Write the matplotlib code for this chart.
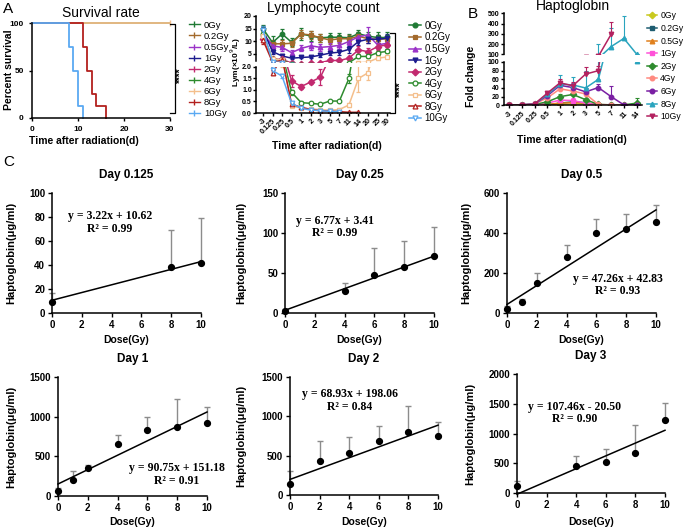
import numpy as np
import matplotlib
matplotlib.use('Agg')
import matplotlib.pyplot as plt
from matplotlib.lines import Line2D

plt.rcParams['font.family'] = ['Liberation Sans', 'DejaVu Sans']
plt.rcParams['axes.linewidth'] = 1.1

W, H = 685, 528


def box(l, t, r, b):
    # pixel box -> figure fraction
    return [l / W, 1 - b / H, (r - l) / W, (b - t) / H]


def fx(x):
    return x / W


def fy(y):
    return 1 - y / H


# ---------------- data ----------------
doses = ['0Gy', '0.2Gy', '0.5Gy', '1Gy', '2Gy', '4Gy', '6Gy', '8Gy', '10Gy']

# survival (Kaplan-Meier steps)
surv_t_low = [0, 30]
surv_p_low = [100, 100]
surv_t_8 = [0, 11, 12, 13, 14, 16]
surv_p_8 = [100, 75, 50, 25, 12.5, 0]
surv_t_10 = [0, 8, 9, 10, 11]
surv_p_10 = [100, 75, 50, 12.5, 0]

# lymphocyte count
lym_days = ['-3', '0.125', '0.25', '0.5', '1', '2', '3', '5', '7', '11', '14', '20', '25', '30']
nan = np.nan
lym_0 = [15, 9.5, 12.9, 9.6, 12.9, 12.1, 11.4, 11.6, 11.6, 11.4, 13, 12, 11.5, 11.5]
lym_02 = [12, 9, 9, 9.2, 12.9, 12.5, 11.4, 10.5, 11, 11, 12, 11, 10.8, 11]
lym_05 = [13, 8.2, 7.6, 5.5, 7.2, 8.2, 7.6, 7.9, 8.4, 9.9, 11.8, 12.5, 8.6, 9.2]
lym_1 = [14.5, 5.9, 4.2, 3.3, 3.6, 3.8, 4.5, 5.3, 5.7, 6.8, 9.9, 10.8, 10.8, 11.2]
lym_2 = [11, 3.0, 2.8, 1.4, 1.15, 1.35, 1.55, 2.4, 2.4, 3.3, 6.6, 5.9, 7.9, 8.6]
lym_4 = [13, 2.9, 2.6, 0.9, 0.45, 0.42, 0.38, 0.52, 0.52, 1.5, 4, 4, 5.5, 6]
lym_6 = [12, 3.1, 2.5, 0.3, 0.22, 0.18, 0.15, 0.12, 0.15, 0.35, 1.5, 1.75, 3.3, 3.8]
lym_8 = [10.5, 1.75, 2.4, 0.38, 0.25, 0.15, 0.1, 0.08, 0.06, 0.03, 0.03, nan, nan, nan]
lym_10 = [14.5, 1.85, 1.6, 0.42, 0.2, 0.13, 0.1, 0.07, 0.06, nan, nan, nan, nan, nan]

lym_sd_0 = [1.5, 2.5, 2, 1.5, 2.5, 2, 1.5, 1.5, 1.5, 1.5, 1.5, 1.5, 2, 2]
lym_sd_02 = [1.5, 1.5, 1.5, 1.5, 1.5, 1.5, 1.5, 1.5, 1.5, 1.5, 1.5, 1.5, 1.5, 1.5]
lym_sd_05 = [1.5, 1.5, 1.5, 1.2, 1.2, 1.5, 1.5, 1.5, 1.5, 1.5, 1.5, 3, 1.5, 1.5]
lym_sd_1 = [1.5, 1, 0.8, 0.4, 0.4, 0.4, 0.8, 0.8, 1, 1.5, 1.5, 1.5, 1.5, 1.5]
lym_sd_2 = [1, 0.6, 0.5, 0.25, 0.1, 0.1, 0.35, 0.3, 0.3, 0.6, 1.5, 1.5, 1.5, 1.5]
lym_sd_4 = [1.5, 0.5, 0.5, 0.1, 0.05, 0.04, 0.04, 0.06, 0.06, 0.2, 0.8, 0.8, 0.8, 0.8]
lym_sd_6 = [1.5, 0.5, 0.5, 0.05, 0.04, 0.04, 0.03, 0.03, 0.05, 0.1, 0.6, 0.3, 0.6, 0.6]
lym_sd_8 = [1.5, 0.1, 0.3, 0.05, 0.04, 0.03, 0.02, 0.02, 0.02, 0.02, 0.02, nan, nan, nan]
lym_sd_10 = [1.5, 0.1, 0.08, 0.05, 0.04, 0.03, 0.02, 0.02, 0.02, nan, nan, nan, nan, nan]

# haptoglobin fold change
hp_days = ['-3', '0.125', '0.25', '0.5', '1', '2', '3', '5', '7', '11', '14']
hp_0 = [1, 1, 1, 1, 2, 3, 3, 1, 1, 1, 1]
hp_02 = [1, 1, 1, 1, 5, 8, 6, 1, 1, 1, 1]
hp_05 = [1, 1, 1, 2, 5, 6, 5, 1, 1, 1, 1]
hp_1 = [1, 1, 1, 5, 12, 11, 5, 1, 1, 1, 1]
hp_2 = [1, 1, 2, 8, 20, 25, 13, 2, 1, 1, 5]
hp_4 = [1, 1, 3, 17, 38, 33, 26, 2, 1, 1, 1]
hp_6 = [1, 1, 3, 22, 46, 41, 31, 41, 20, 1, 1]
hp_8 = [1, 1, 3, 25, 49, 47, 40, 60, 175, 255, 102]
hp_10 = [1, 1, 3, 28, 52, 45, 72, 80, 295, nan, nan]

hp_sd_0 = [0, 0, 0, 0, 1, 1, 1, 0, 0, 0, 0]
hp_sd_02 = [0, 0, 0, 0, 3, 4, 3, 0, 0, 0, 0]
hp_sd_05 = [0, 0, 0, 1, 3, 3, 3, 0, 0, 0, 0]
hp_sd_1 = [0, 0, 0, 2, 5, 5, 3, 0, 0, 5, 0]
hp_sd_2 = [0, 0, 1, 3, 6, 6, 5, 1, 0, 0, 11]
hp_sd_4 = [0, 0, 1, 5, 8, 8, 6, 1, 0, 0, 0]
hp_sd_6 = [0, 0, 1, 6, 10, 10, 8, 8, 25, 0, 0]
hp_sd_8 = [0, 0, 1, 6, 22, 18, 40, 140, 180, 220, 5]
hp_sd_10 = [0, 0, 1, 6, 8, 8, 16, 10, 124, nan, nan]

# panel C: haptoglobin vs dose
c_days = ['Day 0.125', 'Day 0.25', 'Day 0.5', 'Day 1', 'Day 2', 'Day 3']
c_dose = [[0, 8, 10], [0, 4, 6, 8, 10], [0, 1, 2, 4, 6, 8, 10],
          [0, 1, 2, 4, 6, 8, 10], [0, 2, 4, 6, 8, 10], [0, 4, 6, 8, 10]]
c_mean = [[9.5, 38, 42], [3, 28, 48, 57, 71], [20, 55, 150, 278, 400, 418, 456],
          [65, 200, 350, 655, 830, 868, 925], [140, 430, 540, 690, 800, 750],
          [110, 450, 520, 665, 1235]]
c_sd = [[7.5, 31, 37], [2, 10, 33, 33, 36], [15, 15, 48, 60, 72, 75, 82],
        [40, 115, 40, 115, 170, 360, 195], [160, 260, 200, 190, 330, 175],
        [90, 165, 225, 470, 275]]
c_slope = [3.22, 6.77, 47.26, 90.75, 68.93, 107.46]
c_icpt = [10.62, 3.41, 42.83, 151.18, 198.06, -20.50]
c_r2 = [0.99, 0.99, 0.93, 0.91, 0.84, 0.90]
c_ymax = [100, 150, 600, 1500, 1500, 2000]
c_ystep = [20, 50, 200, 500, 500, 500]

# ---------------- styles ----------------
lym_colors = ['#1f7a34', '#a36a2c', '#9b33c8', '#1c1c8e', '#c2296f',
              '#2e8b2e', '#f4bf8c', '#b3201e', '#5aa9f2']
lym_markers = ['o', 's', '^', 'v', 'D', 'o', 's', '^', 'v']
lym_fill = [True, True, True, True, True, False, False, False, False]
hp_colors = ['#c9c91f', '#1d5c70', '#e0801d', '#ff52d8', '#2e8b2e',
             '#ff8a80', '#7a1fa3', '#2aa4be', '#b3215f']
hp_markers = ['D', 's', '^', 's', 'D', 'o', 'o', '^', 'v']

fig = plt.figure(figsize=(6.85, 5.28), dpi=100)

# ================= A: survival =================
ax = fig.add_axes(box(32, 23, 170, 118))
surv_sets = [(surv_t_low, surv_p_low)] * 7 + [(surv_t_8, surv_p_8), (surv_t_10, surv_p_10)]
for (t, p), c in zip(surv_sets, lym_colors):
    ax.step(t, p, where='post', color=c, lw=1.3, clip_on=False)
ax.plot([30], [100], marker='|', color=lym_colors[6], ms=4, clip_on=False)
ax.set_xlim(0, 30)
ax.set_ylim(0, 100)
ax.set_xticks([0, 10, 20, 30])
ax.set_yticks([0, 50, 100])
for s in ['top', 'right']:
    ax.spines[s].set_visible(False)
ax.tick_params(labelsize=6, length=2.5, width=1)
for lab in ax.get_xticklabels() + ax.get_yticklabels():
    lab.set_fontweight('bold')
ax.set_title('Survival rate', fontsize=10, pad=4)
fig.text(fx(9), fy(70), 'Percent survival', rotation=90, ha='center', va='center',
         fontsize=7.5, fontweight='bold')
handles = [Line2D([], [], color=c, lw=1, marker='|', ms=4) for c in lym_colors]
fig.legend(handles, doses, loc='upper left', bbox_to_anchor=(fx(184), fy(16)),
           frameon=False, fontsize=6.8, handlelength=1.2, handletextpad=0.4,
           labelspacing=0.22, borderpad=0)
fig.add_artist(Line2D([fx(170), fx(175), fx(175), fx(170)],
                      [fy(24), fy(24), fy(113), fy(113)], color='k', lw=0.9))
fig.text(fx(181), fy(75), '****', rotation=90, ha='center', va='center',
         fontsize=7, fontweight='bold')
fig.text(fx(84), fy(141), 'Time after radiation(d)', ha='center', va='center',
         fontsize=7.5, fontweight='bold')
fig.text(fx(3), fy(9), 'A', fontsize=11, va='center')

# ================= A: lymphocyte =================
lym_vals = [lym_0, lym_02, lym_05, lym_1, lym_2, lym_4, lym_6, lym_8, lym_10]
lym_sds = [lym_sd_0, lym_sd_02, lym_sd_05, lym_sd_1, lym_sd_2, lym_sd_4,
           lym_sd_6, lym_sd_8, lym_sd_10]
lx = np.arange(len(lym_days))
ax_t = fig.add_axes(box(256, 16, 390, 61.5))
ax_b = fig.add_axes(box(256, 67, 390, 113))
for a in (ax_t, ax_b):
    for v, sd, c, m, f in zip(lym_vals, lym_sds, lym_colors, lym_markers, lym_fill):
        a.errorbar(lx, v, yerr=sd, color=c, lw=1.1, marker=m, ms=3.3,
                   mfc=c if f else 'white', mec=c, mew=0.9,
                   elinewidth=0.9, capsize=1.5, capthick=0.9)
    a.set_xlim(-0.73, 13.3)
    a.spines['top'].set_visible(False)
    a.spines['right'].set_visible(False)
    a.tick_params(labelsize=5, length=2, width=1, pad=1)
ax_t.set_ylim(2, 20)
ax_t.set_yticks([5, 10, 15, 20])
ax_t.spines['bottom'].set_visible(False)
ax_t.set_xticks([])
ax_b.set_ylim(0, 2)
ax_b.set_yticks([0, 0.5, 1.0, 1.5, 2.0])
ax_b.set_yticklabels(['0.0', '0.5', '1.0', '1.5', '2.0'])
ax_b.set_xticks(lx)
ax_b.set_xticklabels(lym_days, rotation=45, ha='right', rotation_mode='anchor',
                     fontsize=5.2)
for lab in ax_t.get_yticklabels() + ax_b.get_yticklabels() + ax_b.get_xticklabels():
    lab.set_fontweight('bold')
ax_t.set_title('Lymphocyte count', fontsize=10, pad=3)
fig.text(fx(235.5), fy(62), 'Lym(×10$^9$/L)', rotation=90, ha='center', va='center',
         fontsize=6, fontweight='bold')
handles = [Line2D([], [], color=c, lw=1.1, marker=m, ms=3.5,
                  mfc=c if f else 'white', mec=c, mew=0.9)
           for c, m, f in zip(lym_colors, lym_markers, lym_fill)]
fig.legend(handles, doses, loc='upper left', bbox_to_anchor=(fx(404), fy(16)),
           frameon=False, fontsize=7, handlelength=1.2, handletextpad=0.4,
           labelspacing=0.16, borderpad=0)
fig.add_artist(Line2D([fx(390), fx(395), fx(395), fx(390)],
                      [fy(33), fy(33), fy(113), fy(113)], color='k', lw=0.9))
fig.text(fx(401), fy(89), '****', rotation=90, ha='center', va='center',
         fontsize=7, fontweight='bold')
fig.text(fx(327), fy(146), 'Time after radiation(d)', ha='center', va='center',
         fontsize=7.5, fontweight='bold')

# ================= B: haptoglobin =================
hp_vals = [hp_0, hp_02, hp_05, hp_1, hp_2, hp_4, hp_6, hp_8, hp_10]
hp_sds = [hp_sd_0, hp_sd_02, hp_sd_05, hp_sd_1, hp_sd_2, hp_sd_4, hp_sd_6, hp_sd_8, hp_sd_10]
hx = np.arange(len(hp_days))
bx_t = fig.add_axes(box(504, 13.3, 642, 54.3))
bx_b = fig.add_axes(box(504, 62, 642, 105.3))
for a in (bx_t, bx_b):
    for v, sd, c, m in zip(hp_vals, hp_sds, hp_colors, hp_markers):
        a.errorbar(hx, v, yerr=[np.zeros(len(sd)), sd], color=c, lw=1.1, marker=m,
                   ms=3.2, elinewidth=0.8, capsize=1.5, capthick=0.8, ecolor=c)
    a.set_xlim(-0.39, 10.42)
    a.spines['top'].set_visible(False)
    a.spines['right'].set_visible(False)
    a.tick_params(labelsize=5, length=2.2, width=1, pad=1.2)
bx_t.set_ylim(100, 500)
bx_t.set_yticks([100, 200, 300, 400, 500])
bx_t.spines['bottom'].set_visible(False)
bx_t.set_xticks([])
bx_b.set_ylim(0, 100)
bx_b.set_yticks([0, 20, 40, 60, 80, 100])
bx_b.set_xticks(hx)
bx_b.set_xticklabels(hp_days, rotation=45, ha='right', rotation_mode='anchor')
for lab in bx_t.get_yticklabels() + bx_b.get_yticklabels() + bx_b.get_xticklabels():
    lab.set_fontweight('bold')
bx_t.set_title('Haptoglobin', fontsize=10, pad=2)
fig.text(fx(471), fy(76), 'Fold change', rotation=90, ha='center', va='center',
         fontsize=7.5, fontweight='bold')
handles = [Line2D([], [], color=c, lw=1.1, marker=m, ms=3.3)
           for c, m in zip(hp_colors, hp_markers)]
fig.legend(handles, doses, loc='upper left', bbox_to_anchor=(fx(643), fy(7)),
           frameon=False, fontsize=6.2, handlelength=1.1, handletextpad=0.4,
           labelspacing=0.42, borderpad=0)
fig.text(fx(572), fy(140), 'Time after radiation(d)', ha='center', va='center',
         fontsize=7.5, fontweight='bold')
fig.text(fx(468), fy(14), 'B', fontsize=11, va='center')

# ================= C: dose response =================
c_boxes = [(52, 193, 201, 313), (285, 193, 434, 313), (507, 193, 656, 313),
           (58, 377, 207, 496), (290, 377, 438, 495), (517, 374, 665, 493)]
c_ylab_x = [11, 241, 466, 11, 241, 470]
c_xlab_y = [340, 340, 340, 522, 522, 522]
c_eq_pos = [(110, 216), (335, 221), (618, 279), (177, 468), (350, 394), (575, 407)]
fig.text(fx(3), fy(162), 'C', fontsize=11, va='center')

for i in range(6):
    l, t, r, b = c_boxes[i]
    ax = fig.add_axes(box(l, t, r, b))
    d = np.array(c_dose[i])
    m = np.array(c_mean[i])
    sd = np.array(c_sd[i])
    ax.errorbar(d, m, yerr=[np.zeros(len(sd)), sd], fmt='none', ecolor='#8c8c8c',
                elinewidth=1, capsize=2.5, capthick=1, clip_on=False)
    ax.plot(d, m, 'o', color='black', ms=4.2, clip_on=False, zorder=3)
    xs = np.array([0, 10])
    ax.plot(xs, c_slope[i] * xs + c_icpt[i], color='black', lw=1.1, clip_on=False)
    ax.set_xlim(0, 10)
    ax.set_ylim(0, c_ymax[i])
    ax.set_xticks([0, 2, 4, 6, 8, 10])
    ax.set_yticks(np.arange(0, c_ymax[i] + 1, c_ystep[i]))
    for s in ['top', 'right']:
        ax.spines[s].set_visible(False)
    ax.tick_params(labelsize=7, length=3, width=1, pad=2)
    for lab in ax.get_xticklabels() + ax.get_yticklabels():
        lab.set_fontweight('bold')
    ax.set_title(c_days[i], fontsize=8.5, fontweight='bold', pad=11)
    fig.text(fx(c_ylab_x[i]), fy((t + b) / 2), 'Haptoglobin(μg/ml)', rotation=90,
             ha='center', va='center', fontsize=8, fontweight='bold')
    fig.text(fx((l + r) / 2), fy(c_xlab_y[i]), 'Dose(Gy)', ha='center', va='center',
             fontsize=7.5, fontweight='bold')
    ex, ey = c_eq_pos[i]
    sign = '+' if c_icpt[i] >= 0 else '-'
    eq = 'y = %.2fx %s %.2f' % (c_slope[i], sign, abs(c_icpt[i]))
    fig.text(fx(ex), fy(ey), eq, ha='center', va='center', fontsize=8.5,
             fontweight='bold', family='Liberation Serif')
    fig.text(fx(ex), fy(ey + 12.5), 'R² = %.2f' % c_r2[i], ha='center', va='center',
             fontsize=8.5, fontweight='bold', family='Liberation Serif')

fig.savefig('out.png', dpi=100)
